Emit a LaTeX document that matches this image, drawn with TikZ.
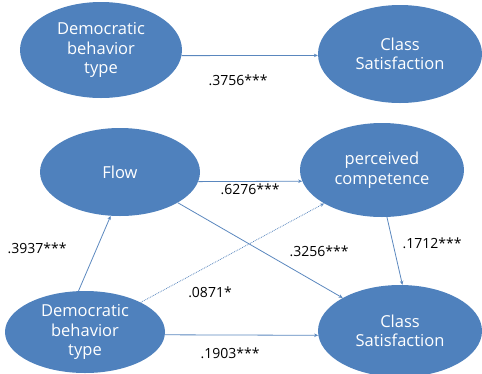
\documentclass[tikz,border=0pt]{standalone}
\usepackage{fontspec}
\setmainfont{Open Sans}
\usetikzlibrary{shapes.geometric,arrows.meta}
\definecolor{ofblue}{RGB}{79,129,189}
\definecolor{lnblue}{RGB}{90,135,190}
\begin{document}
\begin{tikzpicture}[x=1pt,y=-1pt,
  bub/.style={ellipse,fill=ofblue,draw=none,inner sep=0pt,text=white,align=center,
    font=\fontsize{16.5}{19.5}\selectfont},
  conn/.style={draw=lnblue,line width=0.8pt,-{Stealth[length=4pt,width=3.5pt]}},
  lab/.style={font=\fontsize{14}{16}\selectfont,text=black}]
\useasboundingbox (0,0) rectangle (482,373);
\clip (0,0) rectangle (482,373);
% top
\node[bub,minimum width=162pt,minimum height=96pt] (dt) at (101,50) {Democratic\\behavior\\type};
\node[bub,minimum width=164pt,minimum height=98pt] (ct) at (400,54) {Class\\Satisfaction};
\draw[conn] (dt.-4) -- (ct.181.4);
\node[lab] (l1) at (238,80) {.3756***};
% bottom
\node[bub,minimum width=160pt,minimum height=88pt] (fl) at (120,172) {Flow};
\node[bub,minimum width=164pt,minimum height=94pt] (pc) at (382,170) {perceived\\competence};
\node[bub,minimum width=160pt,minimum height=82pt] (db) at (85,332) {Democratic\\behavior\\type};
\node[bub,minimum width=164pt,minimum height=92pt] (cb) at (400,331) {Class\\Satisfaction};
\draw[conn] (fl.-7) -- (pc.188);
\draw[conn] (db.99) -- (fl.258);
\draw[conn] (fl.-28) -- (cb.150.6);
\draw[conn,densely dotted] (db.28) -- (pc.210);
\draw[conn] (pc.-84) -- (cb.87.5);
\draw[conn] (db.-2) -- (cb.-177);
\node[lab] (l2) at (250,189) {.6276***};
\node[lab] (l3) at (37,248) {.3937***};
\node[lab] (l4) at (319,251) {.3256***};
\node[lab] (l5) at (210,292) {.0871*};
\node[lab] (l6) at (432,243) {.1712***};
\node[lab] (l7) at (230,353) {.1903***};
\end{tikzpicture}
\end{document}
